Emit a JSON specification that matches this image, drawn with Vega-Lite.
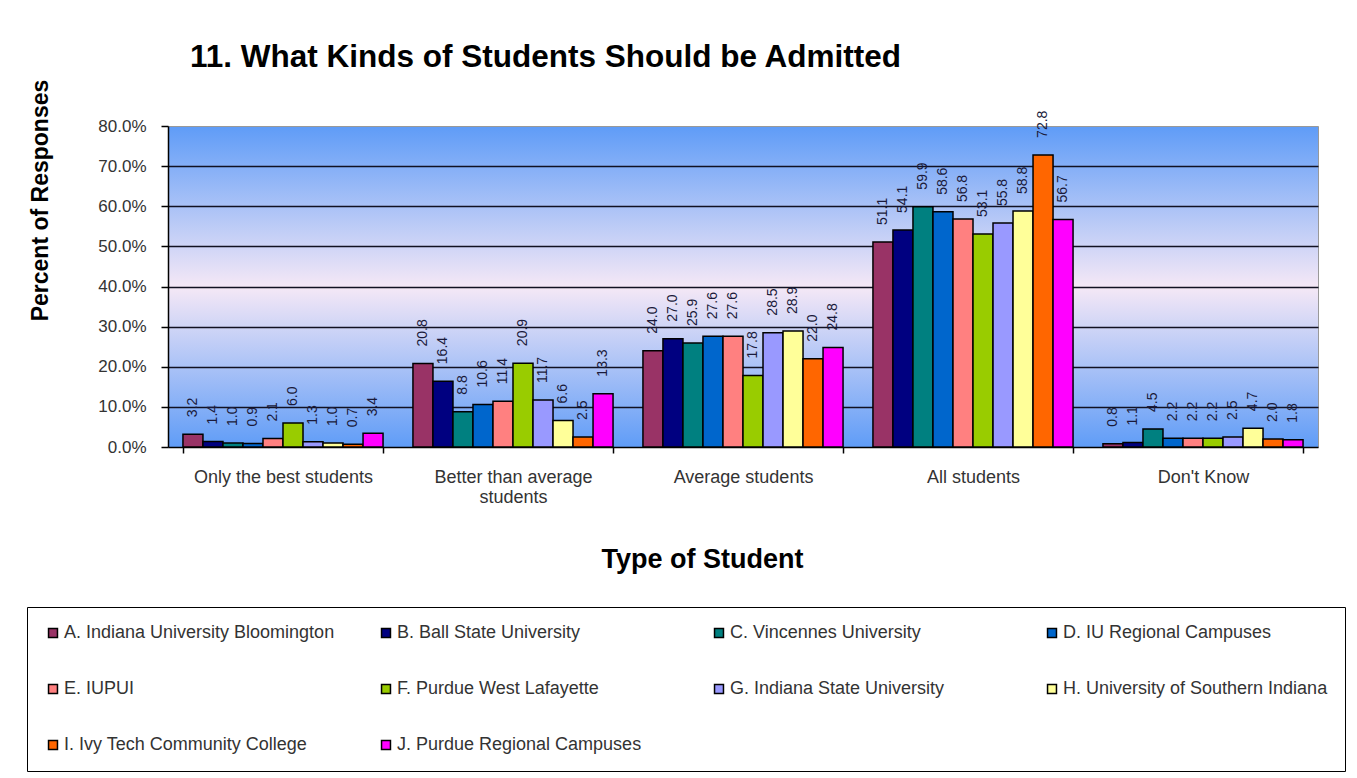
{
  "$schema": "https://vega.github.io/schema/vega-lite/v6.json",
  "width": 1150,
  "height": 321,
  "autosize": {"type": "none"},
  "padding": {"left": 168, "top": 126, "right": 39, "bottom": 331},
  "background": "white",
  "title": {
    "text": "11. What Kinds of Students Should be Admitted",
    "anchor": "start",
    "frame": "group",
    "fontSize": 31.5,
    "fontWeight": "bold",
    "color": "#000",
    "dx": 22,
    "offset": -19,
    "baseline": "alphabetic"
  },
  "view": {
    "stroke": "#999",
    "fill": {
      "gradient": "linear",
      "x1": 0, "y1": 0, "x2": 0, "y2": 1,
      "stops": [
        {"offset": 0, "color": "#5F9CF7"},
        {"offset": 0.5, "color": "#F5E8F6"},
        {"offset": 1, "color": "#5F9CF7"}
      ]
    }
  },
  "data": {
    "values": [
      {"category": "Only the best students", "school": "A. Indiana University Bloomington", "value": 3.2},
      {"category": "Only the best students", "school": "B. Ball State University", "value": 1.4},
      {"category": "Only the best students", "school": "C. Vincennes University", "value": 1.0},
      {"category": "Only the best students", "school": "D. IU Regional Campuses", "value": 0.9},
      {"category": "Only the best students", "school": "E. IUPUI", "value": 2.1},
      {"category": "Only the best students", "school": "F. Purdue West Lafayette", "value": 6.0},
      {"category": "Only the best students", "school": "G. Indiana State University", "value": 1.3},
      {"category": "Only the best students", "school": "H. University of Southern Indiana", "value": 1.0},
      {"category": "Only the best students", "school": "I. Ivy Tech Community College", "value": 0.7},
      {"category": "Only the best students", "school": "J. Purdue Regional Campuses", "value": 3.4},
      {"category": "Better than average students", "school": "A. Indiana University Bloomington", "value": 20.8},
      {"category": "Better than average students", "school": "B. Ball State University", "value": 16.4},
      {"category": "Better than average students", "school": "C. Vincennes University", "value": 8.8},
      {"category": "Better than average students", "school": "D. IU Regional Campuses", "value": 10.6},
      {"category": "Better than average students", "school": "E. IUPUI", "value": 11.4},
      {"category": "Better than average students", "school": "F. Purdue West Lafayette", "value": 20.9},
      {"category": "Better than average students", "school": "G. Indiana State University", "value": 11.7},
      {"category": "Better than average students", "school": "H. University of Southern Indiana", "value": 6.6},
      {"category": "Better than average students", "school": "I. Ivy Tech Community College", "value": 2.5},
      {"category": "Better than average students", "school": "J. Purdue Regional Campuses", "value": 13.3},
      {"category": "Average students", "school": "A. Indiana University Bloomington", "value": 24.0},
      {"category": "Average students", "school": "B. Ball State University", "value": 27.0},
      {"category": "Average students", "school": "C. Vincennes University", "value": 25.9},
      {"category": "Average students", "school": "D. IU Regional Campuses", "value": 27.6},
      {"category": "Average students", "school": "E. IUPUI", "value": 27.6},
      {"category": "Average students", "school": "F. Purdue West Lafayette", "value": 17.8},
      {"category": "Average students", "school": "G. Indiana State University", "value": 28.5},
      {"category": "Average students", "school": "H. University of Southern Indiana", "value": 28.9},
      {"category": "Average students", "school": "I. Ivy Tech Community College", "value": 22.0},
      {"category": "Average students", "school": "J. Purdue Regional Campuses", "value": 24.8},
      {"category": "All students", "school": "A. Indiana University Bloomington", "value": 51.1},
      {"category": "All students", "school": "B. Ball State University", "value": 54.1},
      {"category": "All students", "school": "C. Vincennes University", "value": 59.9},
      {"category": "All students", "school": "D. IU Regional Campuses", "value": 58.6},
      {"category": "All students", "school": "E. IUPUI", "value": 56.8},
      {"category": "All students", "school": "F. Purdue West Lafayette", "value": 53.1},
      {"category": "All students", "school": "G. Indiana State University", "value": 55.8},
      {"category": "All students", "school": "H. University of Southern Indiana", "value": 58.8},
      {"category": "All students", "school": "I. Ivy Tech Community College", "value": 72.8},
      {"category": "All students", "school": "J. Purdue Regional Campuses", "value": 56.7},
      {"category": "Don't Know", "school": "A. Indiana University Bloomington", "value": 0.8},
      {"category": "Don't Know", "school": "B. Ball State University", "value": 1.1},
      {"category": "Don't Know", "school": "C. Vincennes University", "value": 4.5},
      {"category": "Don't Know", "school": "D. IU Regional Campuses", "value": 2.2},
      {"category": "Don't Know", "school": "E. IUPUI", "value": 2.2},
      {"category": "Don't Know", "school": "F. Purdue West Lafayette", "value": 2.2},
      {"category": "Don't Know", "school": "G. Indiana State University", "value": 2.5},
      {"category": "Don't Know", "school": "H. University of Southern Indiana", "value": 4.7},
      {"category": "Don't Know", "school": "I. Ivy Tech Community College", "value": 2.0},
      {"category": "Don't Know", "school": "J. Purdue Regional Campuses", "value": 1.8}
    ]
  },
  "encoding": {
    "x": {
      "field": "category",
      "type": "nominal",
      "sort": ["Only the best students", "Better than average students", "Average students", "All students", "Don't Know"],
      "scale": {"paddingInner": 0.13, "paddingOuter": 0.065},
      "axis": {
        "tickBand": "extent",
        "labelAngle": 0,
        "labelFontSize": 18,
        "labelColor": "#333",
        "labelPadding": 15,
        "labelLineHeight": 20,
        "labelLimit": 0,
        "labelExpr": "datum.value == 'Better than average students' ? ['Better than average', 'students'] : datum.value",
        "tickSize": 6,
        "tickColor": "#000",
        "tickWidth": 1.5,
        "domainColor": "#000",
        "domainWidth": 1.5,
        "grid": false,
        "title": "Type of Student",
        "titleFontSize": 27,
        "titleFontWeight": "bold",
        "titleColor": "#000",
        "titleX": 534,
        "titleY": 120,
        "titleAlign": "center",
        "titleBaseline": "alphabetic"
      }
    },
    "y": {
      "field": "value",
      "type": "quantitative",
      "scale": {"domain": [0, 80], "nice": false},
      "axis": {
        "values": [0, 10, 20, 30, 40, 50, 60, 70, 80],
        "labelExpr": "format(datum.value, '.1f') + '%'",
        "labelFontSize": 17,
        "labelColor": "#333",
        "labelPadding": 15,
        "tickSize": 7,
        "tickColor": "#000",
        "tickWidth": 1.5,
        "domainColor": "#000",
        "domainWidth": 1.5,
        "grid": true,
        "gridColor": "#111122",
        "gridWidth": 1.5,
        "gridOpacity": {"condition": {"test": "datum.value == 80 || datum.value == 0", "value": 0}, "value": 1},
        "title": "Percent of Responses",
        "titleFontSize": 23,
        "titleFontWeight": "bold",
        "titleColor": "#000",
        "titleX": -128,
        "titleY": 74,
        "titleAngle": 270,
        "titleAlign": "center",
        "titleBaseline": "middle"
      }
    },
    "xOffset": {"field": "school", "type": "nominal", "scale": {"paddingInner": 0, "paddingOuter": 0}}
  },
  "layer": [
    {
      "mark": {"type": "bar", "stroke": "#000", "strokeWidth": 1.5},
      "encoding": {
        "color": {
          "field": "school",
          "type": "nominal",
          "scale": {
            "domain": ["A. Indiana University Bloomington", "B. Ball State University", "C. Vincennes University", "D. IU Regional Campuses", "E. IUPUI", "F. Purdue West Lafayette", "G. Indiana State University", "H. University of Southern Indiana", "I. Ivy Tech Community College", "J. Purdue Regional Campuses"],
            "range": ["#993366", "#000080", "#008080", "#0066CC", "#FF8080", "#99CC00", "#9999FF", "#FFFF99", "#FF6600", "#FF00FF"]
          },
          "legend": {
            "title": null,
            "orient": "none",
            "direction": "horizontal",
            "legendX": -141,
            "legendY": 481,
            "columns": 4,
            "gridAlign": "all",
            "columnPadding": 42,
            "rowPadding": 38,
            "symbolType": "square",
            "symbolSize": 80,
            "symbolStrokeColor": "#000",
            "symbolStrokeWidth": 1.5,
            "labelFontSize": 18,
            "labelColor": "#333",
            "labelOffset": 2,
            "labelLimit": 400,
            "padding": 17,
            "strokeColor": "#000",
            "fillColor": "#fff"
          }
        }
      }
    },
    {
      "mark": {"type": "text", "angle": 270, "align": "left", "baseline": "middle", "dx": 17, "fontSize": 14, "color": "#1a1a3a"},
      "encoding": {
        "text": {"field": "value", "type": "quantitative", "format": ".1f"}
      }
    }
  ],
  "config": {
    "font": "Liberation Sans"
  }
}
